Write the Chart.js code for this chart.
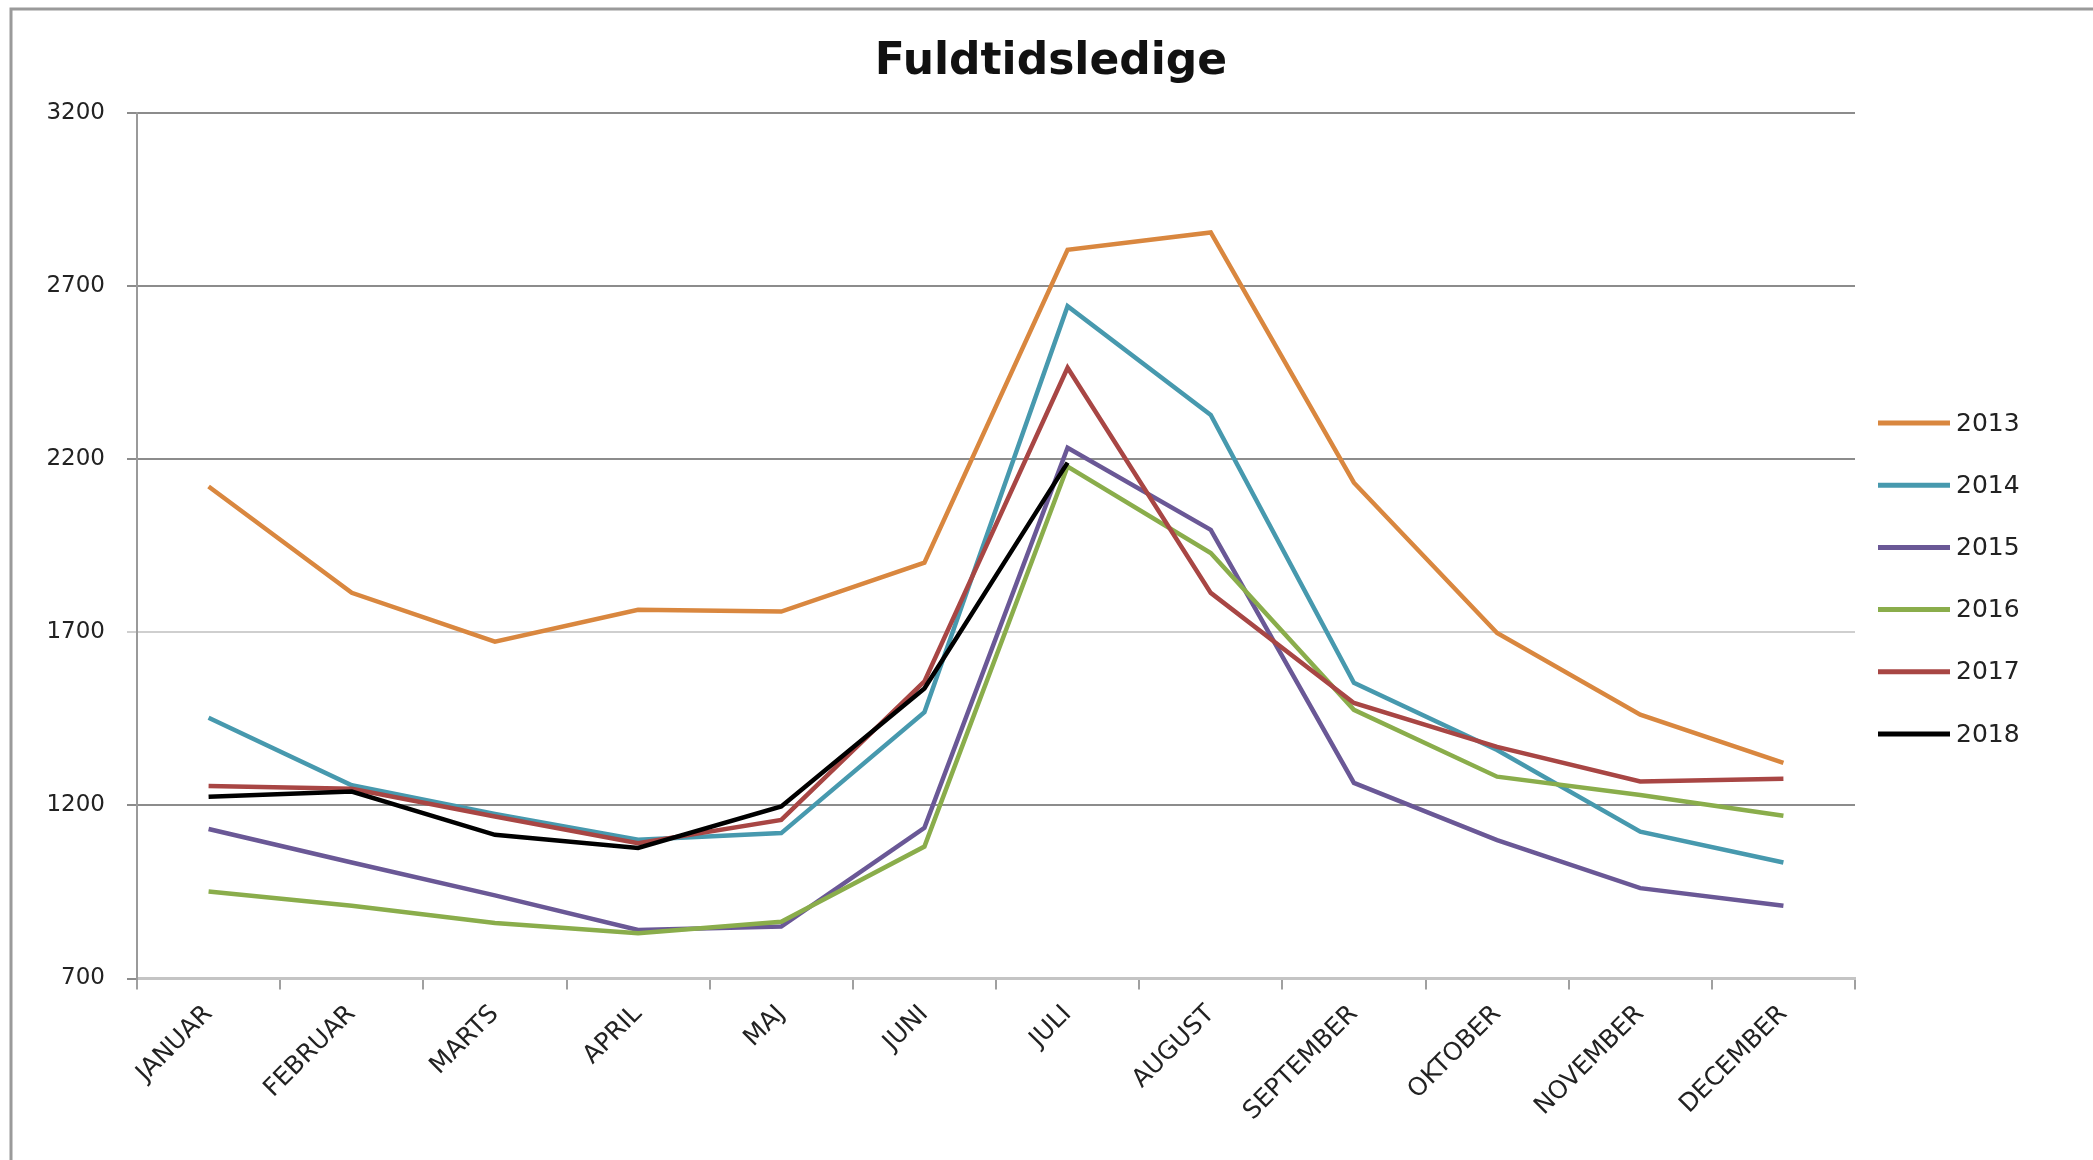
<!DOCTYPE html>
<html lang="da">
<head>
    <meta charset="UTF-8">
    <title>Fuldtidsledige</title>
    <script src="https://cdn.jsdelivr.net/npm/chart.js"></script>
    <style>
        body {
            margin: 0;
            background-color: #fff;
        }
        #chartBox {
            width: 2093px;
            height: 1160px;
        }
    </style>
</head>
<body>
    <div id="chartBox">
        <canvas id="ledigeChart" width="2093" height="1160"></canvas>
    </div>

    <script>
        // Data
        var months = ['JANUAR', 'FEBRUAR', 'MARTS', 'APRIL', 'MAJ', 'JUNI', 'JULI', 'AUGUST', 'SEPTEMBER', 'OKTOBER', 'NOVEMBER', 'DECEMBER'];
        var years = ['2013', '2014', '2015', '2016', '2017', '2018'];
        var ledige2013 = [2121, 1814, 1673, 1765, 1760, 1901, 2805, 2855, 2132, 1698, 1462, 1323];
        var ledige2014 = [1453, 1258, 1175, 1101, 1120, 1469, 2642, 2328, 1554, 1360, 1124, 1035];
        var ledige2015 = [1132, 1035, 940, 840, 850, 1135, 2233, 1996, 1265, 1100, 961, 910];
        var ledige2016 = [951, 910, 860, 831, 864, 1081, 2179, 1929, 1476, 1283, 1230, 1170];
        var ledige2017 = [1256, 1248, 1168, 1091, 1158, 1558, 2464, 1814, 1496, 1369, 1269, 1277];
        var ledige2018 = [1225, 1240, 1115, 1077, 1197, 1538, 2190, null, null, null, null, null];
        var yTicks = [700, 1200, 1700, 2200, 2700, 3200];

        var seriesValues = [ledige2013, ledige2014, ledige2015, ledige2016, ledige2017, ledige2018];
        var seriesColors = ['#d9873f', '#4799ae', '#6a5896', '#8aad4b', '#a84644', '#000000'];

        var labelFont = '"DejaVu Sans", sans-serif';

        // Frame (only top and left edge are visible in the original) and title
        var framePlugin = {
            id: 'frame',
            beforeDraw: function(chart) {
                var ctx = chart.ctx;
                ctx.save();
                ctx.fillStyle = '#fff';
                ctx.fillRect(0, 0, chart.width, chart.height);
                ctx.strokeStyle = '#9a9a9a';
                ctx.lineWidth = 3;
                ctx.beginPath();
                ctx.moveTo(11, chart.height);
                ctx.lineTo(11, 9);
                ctx.lineTo(chart.width, 9);
                ctx.stroke();
                ctx.restore();
            },
            afterDraw: function(chart) {
                var ctx = chart.ctx;
                ctx.save();
                ctx.fillStyle = '#111';
                ctx.font = 'bold 44px "DejaVu Sans", sans-serif';
                ctx.textAlign = 'center';
                ctx.textBaseline = 'middle';
                ctx.fillText('Fuldtidsledige', 1051, 63);
                ctx.restore();
            }
        };

        // Legend on the right, one line per year
        var legendPlugin = {
            id: 'sideLegend',
            afterDraw: function(chart) {
                var ctx = chart.ctx;
                ctx.save();
                chart.data.datasets.forEach(function(ds, i) {
                    var y = 423 + i * 62.2;
                    ctx.strokeStyle = ds.borderColor;
                    ctx.lineWidth = 5;
                    ctx.beginPath();
                    ctx.moveTo(1878, y);
                    ctx.lineTo(1950, y);
                    ctx.stroke();
                    ctx.fillStyle = '#222';
                    ctx.font = '25px ' + labelFont;
                    ctx.textAlign = 'left';
                    ctx.textBaseline = 'middle';
                    ctx.fillText(ds.label, 1956, y + 1);
                });
                ctx.restore();
            }
        };

        var datasets = years.map(function(year, i) {
            return {
                label: year,
                data: seriesValues[i],
                borderColor: seriesColors[i],
                backgroundColor: seriesColors[i],
                borderWidth: 4.5,
                pointRadius: 0,
                tension: 0,
                order: years.length - 1 - i
            };
        });

        var ctx = document.getElementById('ledigeChart').getContext('2d');
        var myChart = new Chart(ctx, {
            type: 'line',
            data: {
                labels: months,
                datasets: datasets
            },
            options: {
                responsive: false,
                animation: false,
                devicePixelRatio: 1,
                layout: {
                    padding: { left: 0, right: 238, top: 113, bottom: 0 }
                },
                plugins: {
                    legend: { display: false },
                    title: { display: false },
                    tooltip: { enabled: false }
                },
                scales: {
                    x: {
                        offset: true,
                        afterFit: function(scale) { scale.height = 181.5; },
                        grid: {
                            offset: true,
                            drawOnChartArea: false,
                            tickLength: 11,
                            color: '#a0a0a0',
                            lineWidth: 2
                        },
                        border: { color: '#c4c4c4', width: 3 },
                        ticks: {
                            autoSkip: false,
                            maxRotation: 45,
                            minRotation: 45,
                            padding: 10,
                            color: '#222',
                            font: { family: labelFont, size: 25 }
                        }
                    },
                    y: {
                        min: 700,
                        max: 3200,
                        afterFit: function(scale) { scale.width = 137; },
                        afterBuildTicks: function(scale) {
                            scale.ticks = yTicks.map(function(v) { return { value: v }; });
                        },
                        grid: {
                            tickLength: 10,
                            lineWidth: 2,
                            color: function(c) {
                                if (c.tick && c.tick.value === 1700) return '#cfcfcf';
                                return '#8c8c8c';
                            }
                        },
                        border: { color: '#9a9a9a', width: 2 },
                        ticks: {
                            padding: 22,
                            color: '#222',
                            font: { family: labelFont, size: 23 },
                            callback: function(value) { return String(value); }
                        }
                    }
                }
            },
            plugins: [framePlugin, legendPlugin]
        });
    </script>
</body>
</html>
